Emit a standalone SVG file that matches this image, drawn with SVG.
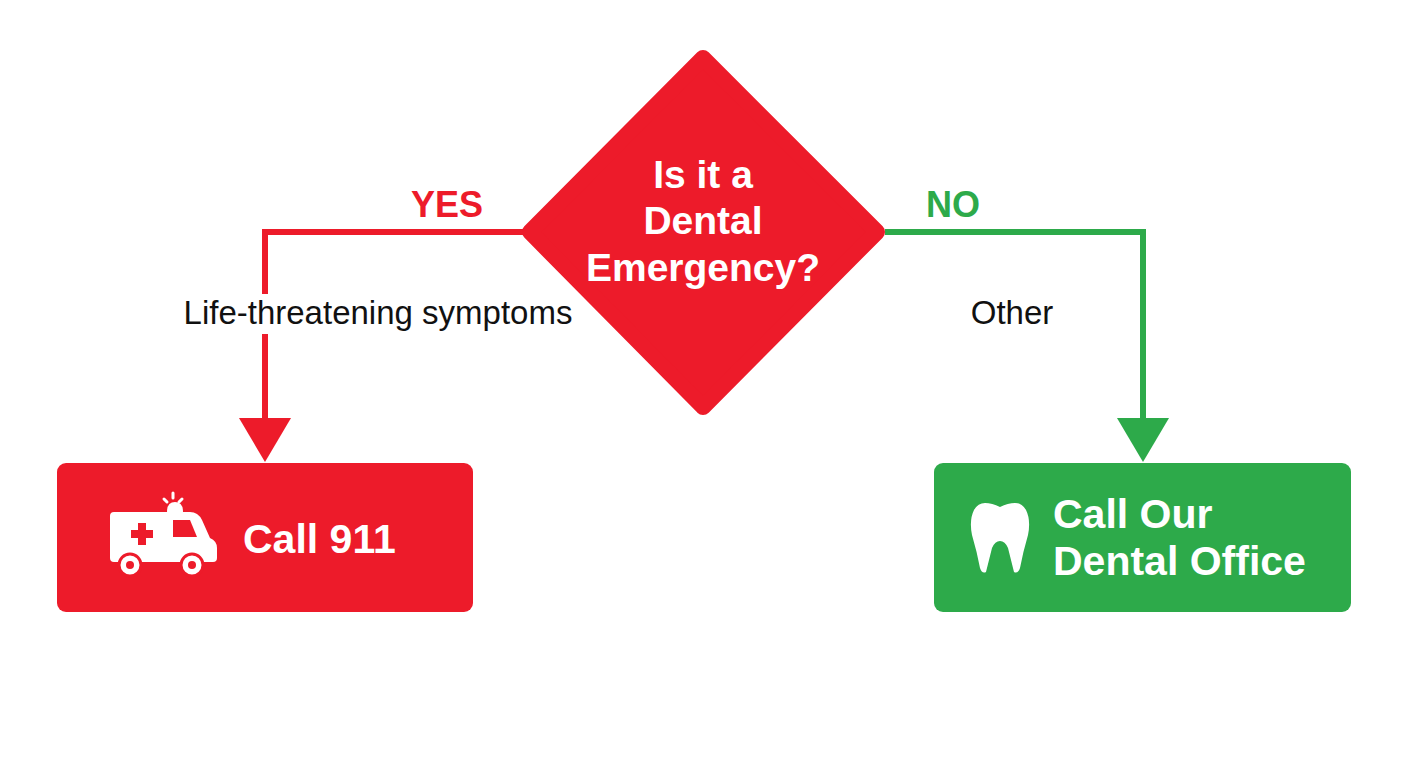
<svg xmlns="http://www.w3.org/2000/svg" width="1408" height="768" viewBox="0 0 1408 768">
<style>
.t{font-family:"Liberation Sans",Arial,sans-serif;font-weight:bold;fill:#fff}
.l{font-family:"Liberation Sans",Arial,sans-serif;font-size:33px;fill:#111}
.red{fill:#ED1B2A}.green{fill:#2DAA4A}
</style>
<rect width="1408" height="768" fill="#fff"/>
<g id="connectors" fill="none" stroke-width="6">
<polyline points="525,232 265,232 265,425" stroke="#ED1B2A"/>
<polygon points="239,418 291,418 265,462" fill="#ED1B2A" stroke="none"/>
<polyline points="885,232 1143,232 1143,425" stroke="#2DAA4A"/>
<polygon points="1117,418 1169,418 1143,462" fill="#2DAA4A" stroke="none"/>
<text x="447" y="217" text-anchor="middle" class="t" style="font-size:36px;fill:#ED1B2A;stroke:none">YES</text>
<text x="953" y="217" text-anchor="middle" class="t" style="font-size:36px;fill:#2DAA4A;stroke:none">NO</text>
<rect x="250" y="294" width="30" height="40" fill="#fff" stroke="none"/>
<text x="378" y="324" text-anchor="middle" class="l" stroke="none">Life-threatening symptoms</text>
<text x="1012" y="324" text-anchor="middle" class="l" stroke="none">Other</text>
</g>
<g id="decision">
<polygon points="703,58 877,232 703,407 530,232" class="red" stroke="#ED1B2A" stroke-width="16" stroke-linejoin="round"/>
<text x="703" y="188" text-anchor="middle" class="t" font-size="39">Is it a</text>
<text x="703" y="234" text-anchor="middle" class="t" font-size="39">Dental</text>
<text x="703" y="281" text-anchor="middle" class="t" font-size="39">Emergency?</text>
</g>
<g id="call911">
<rect x="57" y="463" width="416" height="149" rx="9" class="red"/>
<g fill="#fff">
<path d="M114,512 H190 Q198,512 202,520 L210,538 Q217,541 217,548 V558 Q217,562 213,562 H114 Q110,562 110,558 V516 Q110,512 114,512 Z"/>
<path d="M167,512 Q167,502 175,502 Q183,502 183,512 Z"/>
</g>
<g stroke="#fff" stroke-width="3" stroke-linecap="round">
<line x1="173" y1="493" x2="173" y2="498"/><line x1="164" y1="499" x2="167" y2="502"/><line x1="182" y1="499" x2="179" y2="502"/>
</g>
<path d="M173,520 H190 L197,537 H173 Z" fill="#ED1B2A"/>
<path d="M138,523 h8 v7 h7 v8 h-7 v7 h-8 v-7 h-7 v-8 h7 Z" fill="#ED1B2A"/>
<circle cx="130" cy="565" r="11" fill="#fff" stroke="#ED1B2A" stroke-width="3"/><circle cx="130" cy="565" r="4" fill="#ED1B2A"/>
<circle cx="192" cy="565" r="11" fill="#fff" stroke="#ED1B2A" stroke-width="3"/><circle cx="192" cy="565" r="4" fill="#ED1B2A"/>
<text x="243" y="553" class="t" font-size="41">Call 911</text>
</g>
<g id="office">
<rect x="934" y="463" width="417" height="149" rx="9" class="green"/>
<path d="M985,503 Q978,503 974,510 Q969,520 972,535 Q977,552 980,568 Q982,574 986,572 Q989,560 992,548 Q995,541 1000,541 Q1005,541 1008,548 Q1011,560 1014,572 Q1018,574 1020,568 Q1023,552 1028,535 Q1031,520 1026,510 Q1022,503 1015,503 Q1008,503 1000,507 Q992,503 985,503 Z" fill="#fff"/>
<text x="1053" y="528" class="t" font-size="41">Call Our</text>
<text x="1053" y="575" class="t" font-size="41">Dental Office</text>
</g>
</svg>
